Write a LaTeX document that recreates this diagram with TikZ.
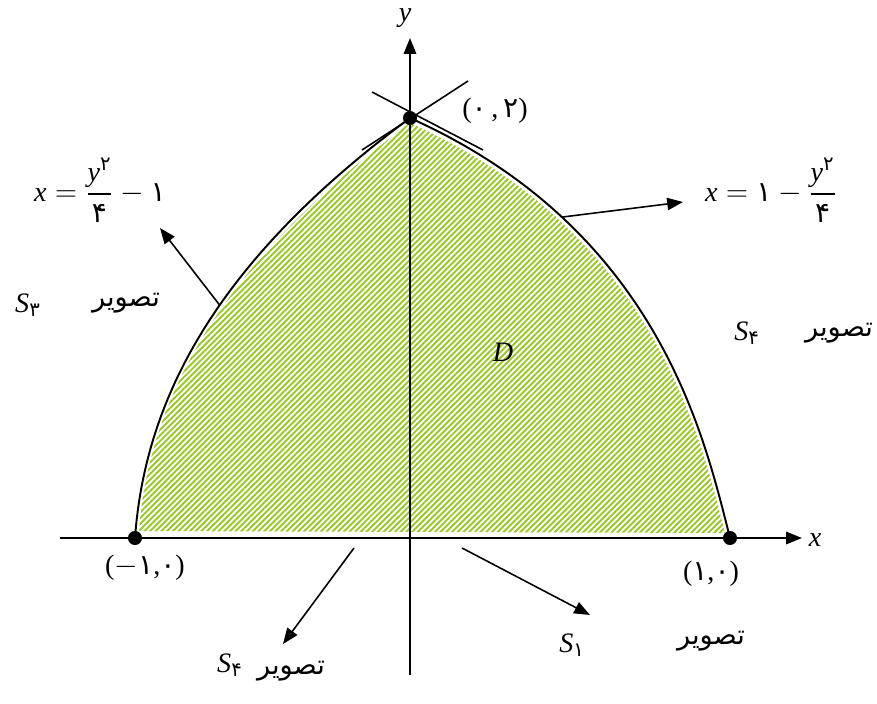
\documentclass[tikz,border=0pt]{standalone}
\usepackage{amsmath}
\usepackage{fontspec}
\setmainfont{Liberation Serif}
\newfontfamily\arabicfont[Script=Arabic]{DejaVu Sans}
\TeXXeTstate=1
\usetikzlibrary{arrows.meta, patterns.meta}
\definecolor{hatch}{RGB}{152,200,35}
\newcommand\fa[1]{\text{\arabicfont #1}}
\newcommand\tasvir{{\fontsize{15.5}{18}\selectfont\arabicfont\beginR تصویر\endR}}

\begin{document}
\begin{tikzpicture}[x=0.02cm, y=-0.02cm, font=\fontsize{16}{19}\selectfont,
    curve/.style={line width=1.1pt},
    pointer/.style={line width=0.9pt, -{Triangle[length=9pt,width=7pt]}},
    axis/.style={line width=1.1pt, -{Triangle[length=9pt,width=7pt]}},
    dot/.style={circle, fill, inner sep=0pt, minimum size=8pt}]
  \useasboundingbox (0,0) rectangle (877,704);

  % region D
  \fill[pattern={Lines[angle=45,distance=2.3pt,line width=1.1pt]}, pattern color=hatch]
    (139,531) .. controls (149,400) and (219,264) .. (410,123)
    .. controls (656,233) and (701,440) .. (725,533) -- cycle;

  % axes
  \coordinate (xs) at (60,538);
  \coordinate (xe) at (802,538);
  \coordinate (ys) at (410,675);
  \coordinate (ye) at (410,38);
  \draw[axis] (xs) -- (xe);
  \draw[axis] (ys) -- (ye);
  \node (xl) at (815,540) {\textit{x}};
  \node (yl) at (405,18) {\textit{y}};

  % points
  \node[dot] (A) at (135,538) {};
  \node[dot] (B) at (730,538) {};
  \node[dot] (C) at (410,118) {};

  % boundary curves
  \draw[curve] (A.center) .. controls (145,400) and (215,262) .. (C.center) coordinate[pos=0.56] (pL);
  \draw[curve] (C.center) .. controls (660,230) and (705,440) .. (B.center) coordinate[pos=0.25] (pR);

  % tangents at the top
  \coordinate (t1) at (372,92);
  \coordinate (t2) at (483,150);
  \coordinate (t3) at (468,81);
  \coordinate (t4) at (362,150);
  \draw[line width=0.9pt] (t1) -- (t2);
  \draw[line width=0.9pt] (t3) -- (t4);

  % point labels
  \node (lC) at (495,111) {(\fa{۰}\,,\,\fa{۲})};
  \node (lA) at (145,568) {($-$\fa{۱},\fa{۰})};
  \node (lB) at (711,574) {(\fa{۱},\fa{۰})};
  \node (D) at (503,352) {\textit{D}};

  % equations of the curves
  \node (eqL) at (100,190) {$\textit{x} = \dfrac{\textit{y}^{\fa{۲}}}{\fa{۴}} - \fa{۱}$};
  \node (eqR) at (771,190) {$\textit{x} = \fa{۱} - \dfrac{\textit{y}^{\fa{۲}}}{\fa{۴}}$};
  \coordinate (qL) at (160,228);
  \coordinate (qR) at (683,202);
  \draw[pointer] (pL) -- (qL);
  \draw[pointer] (pR) -- (qR);

  % images of the sides
  \node (s3) at (28,305) {$\textit{S}_{\fa{۳}}$};
  \node (w3) at (126,303) {\tasvir};
  \node (s4r) at (747,333) {$\textit{S}_{\fa{۴}}$};
  \node (w4r) at (839,333) {\tasvir};
  \node (s4b) at (230,665) {$\textit{S}_{\fa{۴}}$};
  \node (w4b) at (291,671) {\tasvir};
  \node (s1) at (572,645) {$\textit{S}_{\fa{۱}}$};
  \node (w1) at (711,641) {\tasvir};
  \coordinate (pB1) at (354,548);
  \coordinate (qB1) at (283,644);
  \coordinate (pB2) at (462,548);
  \coordinate (qB2) at (590,615);
  \draw[pointer] (pB1) -- (qB1);
  \draw[pointer] (pB2) -- (qB2);
\end{tikzpicture}
\end{document}
